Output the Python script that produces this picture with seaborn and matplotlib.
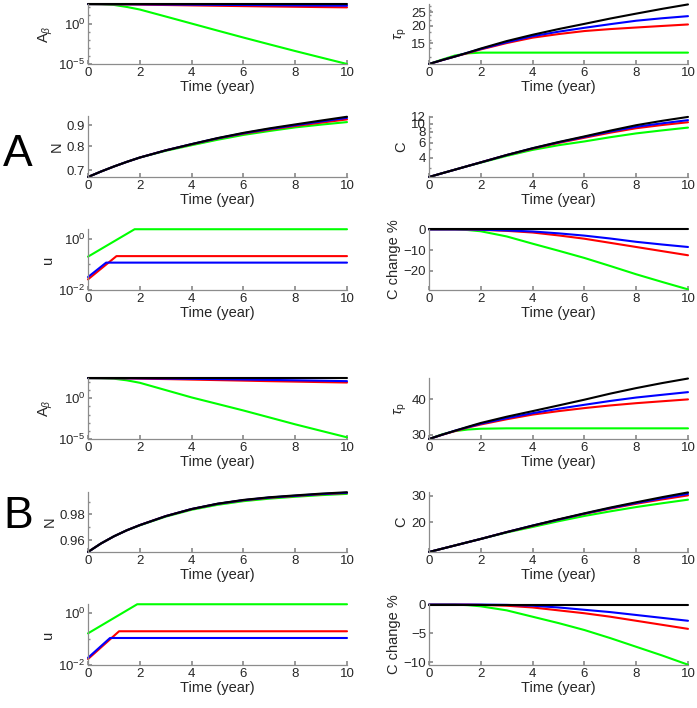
import numpy as np
import matplotlib
matplotlib.use("Agg")
import matplotlib.pyplot as plt
import matplotlib.ticker as mticker
import seaborn as sns

sns.set_theme(style="white")
plt.rcParams['font.family'] = ['Liberation Sans', 'DejaVu Sans']
plt.rcParams['mathtext.fontset'] = 'custom'
plt.rcParams['mathtext.rm'] = 'Liberation Sans'
plt.rcParams['mathtext.it'] = 'Liberation Sans:italic'

# time grid (years) used for the smooth curves
T = [0, 0.5, 1, 1.5, 2, 3, 4, 5, 6, 7, 8, 9, 10]

# ---------- panel A ----------
a_abeta = {
    'green': [250, 240, 200, 112, 54, 7.4, 1.0, 0.135, 0.0186, 0.0027, 4.0e-4, 6.3e-5, 1.0e-5],
    'red':   [250, 245, 238, 228, 218, 195, 175, 157, 142, 129, 118, 108, 100],
    'blue':  [250, 248, 245, 240, 235, 225, 215, 205, 195, 185, 175, 167, 160],
    'black': [250, 250, 250, 250, 250, 250, 250, 250, 250, 250, 250, 250, 250],
}
a_taup = {
    'green': [10.7, 11.5, 12.3, 12.75, 12.9, 12.9, 12.9, 12.9, 12.9, 12.9, 12.9, 12.9, 12.9],
    'red':   [10.7, 11.4, 12.1, 12.8, 13.6, 15.1, 16.5, 17.5, 18.4, 19.0, 19.5, 20.0, 20.5],
    'blue':  [10.7, 11.4, 12.1, 12.9, 13.7, 15.3, 16.9, 18.2, 19.4, 20.6, 21.8, 22.7, 23.5],
    'black': [10.7, 11.4, 12.1, 12.9, 13.8, 15.6, 17.3, 19.0, 20.7, 22.6, 24.5, 26.5, 28.5],
}
a_n = {
    'green': [0.673, 0.694, 0.714, 0.733, 0.751, 0.780, 0.805, 0.830, 0.853, 0.872, 0.890, 0.904, 0.917],
    'red':   [0.673, 0.694, 0.714, 0.733, 0.751, 0.782, 0.809, 0.836, 0.859, 0.879, 0.897, 0.914, 0.931],
    'blue':  [0.673, 0.694, 0.714, 0.733, 0.751, 0.782, 0.810, 0.837, 0.861, 0.882, 0.901, 0.920, 0.939],
    'black': [0.673, 0.694, 0.714, 0.733, 0.751, 0.782, 0.810, 0.838, 0.863, 0.885, 0.905, 0.925, 0.945],
}
a_c = {
    'green': [2.38, 2.63, 2.9, 3.2, 3.5, 4.2, 4.94, 5.6, 6.2, 6.95, 7.7, 8.35, 9.0],
    'red':   [2.38, 2.63, 2.9, 3.2, 3.53, 4.3, 5.1, 5.95, 6.85, 7.85, 8.85, 9.65, 10.4],
    'blue':  [2.38, 2.63, 2.9, 3.2, 3.53, 4.3, 5.15, 6.05, 7.0, 8.1, 9.2, 10.1, 11.0],
    'black': [2.38, 2.63, 2.9, 3.2, 3.53, 4.3, 5.17, 6.1, 7.1, 8.3, 9.6, 10.8, 12.0],
}
a_cchg = {
    'green': [0, 0, 0, -0.3, -0.9, -3.4, -6.9, -10.3, -13.8, -17.7, -21.7, -25.4, -29.0],
    'red':   [0, 0, 0, -0.05, -0.2, -0.7, -1.5, -2.9, -4.5, -6.5, -8.5, -10.5, -12.5],
    'blue':  [0, 0, 0, 0, -0.1, -0.5, -1.0, -1.9, -3.0, -4.4, -6.0, -7.3, -8.5],
    'black': [0, 0, 0, 0, 0, 0, 0, 0, 0, 0, 0, 0, 0],
}
# control u: (breakpoint times, values)
a_u = {
    'green': ([0, 1.8, 10], [0.2, 2.35, 2.35]),
    'red':   ([0, 1.1, 10], [0.026, 0.21, 0.21]),
    'blue':  ([0, 0.7, 10], [0.032, 0.117, 0.117]),
}

# ---------- panel B ----------
b_abeta = {
    'green': [295, 282, 251, 158, 79, 10, 1.26, 0.2, 0.0316, 0.00447, 6.3e-4, 1.0e-4, 1.6e-5],
    'red':   [295, 290, 282, 270, 255, 225, 195, 168, 145, 125, 110, 96, 85],
    'blue':  [295, 292, 288, 282, 275, 260, 240, 220, 198, 178, 160, 142, 125],
    'black': [295, 295, 295, 295, 295, 295, 295, 295, 295, 295, 295, 295, 295],
}
b_taup = {
    'green': [29.0, 30.1, 30.9, 31.3, 31.5, 31.6, 31.6, 31.6, 31.6, 31.6, 31.6, 31.6, 31.6],
    'red':   [29.0, 30.0, 30.9, 31.8, 32.6, 34.0, 35.3, 36.3, 37.2, 38.0, 38.7, 39.3, 39.9],
    'blue':  [29.0, 30.0, 31.0, 31.9, 32.8, 34.3, 35.7, 37.0, 38.2, 39.4, 40.5, 41.4, 42.3],
    'black': [29.0, 30.0, 31.0, 32.0, 33.0, 34.7, 36.3, 38.0, 39.8, 41.8, 43.7, 45.5, 47.2],
}
b_n = {
    'green': [0.951, 0.9575, 0.9630, 0.9677, 0.9715, 0.9783, 0.9837, 0.9876, 0.9905, 0.9925, 0.9940, 0.9953, 0.9963],
    'red':   [0.951, 0.9575, 0.9630, 0.9677, 0.9717, 0.9787, 0.9842, 0.9883, 0.9912, 0.9932, 0.9946, 0.9960, 0.9970],
    'blue':  [0.951, 0.9575, 0.9630, 0.9677, 0.9717, 0.9787, 0.9843, 0.9884, 0.9913, 0.9934, 0.9948, 0.9962, 0.9972],
    'black': [0.951, 0.9575, 0.9630, 0.9677, 0.9717, 0.9787, 0.9843, 0.9885, 0.9915, 0.9936, 0.9951, 0.9965, 0.9976],
}
b_c = {
    'green': [12.7, 13.35, 14.03, 14.75, 15.5, 17.1, 18.6, 20.3, 22.0, 23.6, 25.2, 26.7, 28.2],
    'red':   [12.7, 13.35, 14.03, 14.75, 15.5, 17.2, 18.9, 20.8, 22.7, 24.6, 26.5, 28.3, 30.1],
    'blue':  [12.7, 13.35, 14.03, 14.75, 15.5, 17.2, 19.0, 20.8, 22.8, 24.8, 26.8, 28.8, 30.8],
    'black': [12.7, 13.35, 14.03, 14.75, 15.5, 17.2, 19.0, 20.9, 22.9, 25.0, 27.1, 29.3, 31.5],
}
b_cchg = {
    'green': [0, 0, 0, -0.1, -0.3, -1.0, -2.1, -3.2, -4.4, -5.8, -7.3, -8.8, -10.4],
    'red':   [0, 0, 0, 0, -0.05, -0.2, -0.5, -1.0, -1.5, -2.1, -2.8, -3.5, -4.2],
    'blue':  [0, 0, 0, 0, 0, -0.05, -0.2, -0.5, -0.9, -1.3, -1.8, -2.3, -2.8],
    'black': [0, 0, 0, 0, 0, 0, 0, 0, 0, 0, 0, 0, 0],
}
b_u = {
    'green': ([0, 1.9, 10], [0.166, 2.2, 2.2]),
    'red':   ([0, 1.2, 10], [0.017, 0.2, 0.2]),
    'blue':  ([0, 0.85, 10], [0.019, 0.11, 0.11]),
}

COLORS = {'green': '#00ff00', 'red': '#ff0000', 'blue': '#0000ff', 'black': '#000000'}
W, H = 697, 708


def make_ax(fig, x0, x1, top, bottom):
    return fig.add_axes([x0 / W, 1 - bottom / H, (x1 - x0) / W, (bottom - top) / H])


def style_ax(ax):
    sns.despine(ax=ax)
    for s in ['left', 'bottom']:
        ax.spines[s].set_color('#8c8c8c')
        ax.spines[s].set_linewidth(0.9)
    ax.tick_params(which='both', direction='in', colors='#8c8c8c',
                   labelcolor='#262626', labelsize=9.5, left=True, bottom=True)
    ax.tick_params(which='major', length=3, pad=2)
    ax.tick_params(which='minor', length=1.5)
    ax.set_xlim(0, 10)
    ax.set_xticks([0, 2, 4, 6, 8, 10])
    ax.set_xlabel('Time (year)', fontsize=10.5, color='#262626', labelpad=1)
    ax.grid(False)


def draw_curves(ax, data, times=None):
    for name in ['green', 'red', 'blue', 'black']:
        if name not in data:
            continue
        if times is None:
            xs, ys = data[name]
        else:
            xs, ys = times, data[name]
        sns.lineplot(x=xs, y=ys, ax=ax, color=COLORS[name], lw=1.5,
                     estimator=None, sort=False, clip_on=False)


def plain_log(ax, ticks, lims):
    ax.set_yscale('log')
    ax.set_ylim(*lims)
    ax.yaxis.set_major_locator(mticker.FixedLocator(ticks))
    ax.yaxis.set_major_formatter(mticker.FuncFormatter(lambda v, _: f'{v:g}'))
    ax.yaxis.set_minor_formatter(mticker.NullFormatter())


def sci_log(ax, ticks, lims):
    ax.set_yscale('log')
    ax.set_ylim(*lims)
    ax.yaxis.set_major_locator(mticker.FixedLocator(ticks))
    ax.yaxis.set_major_formatter(mticker.FuncFormatter(
        lambda v, _: r'$10^{%d}$' % int(round(np.log10(v)))))
    ax.yaxis.set_minor_locator(mticker.LogLocator(base=10, subs=(1.0,), numticks=20))
    ax.yaxis.set_minor_formatter(mticker.NullFormatter())


def ylab(ax, text):
    ax.set_ylabel(text, fontsize=10.5, color='#262626', labelpad=2)


fig = plt.figure(figsize=(W / 100, H / 100), dpi=100)
LX = (88, 347)
RX = (429, 688)

groups = [
    (a_abeta, a_taup, a_n, a_c, a_u, a_cchg,
     [(4, 64), (116, 177), (229, 290)],
     dict(abeta=(1e-5, 260), taup=((15, 20, 25), (10.7, 28.7)),
          n=((0.7, 0.8, 0.9), (0.673, 0.949)), c=((4, 6, 8, 10, 12), (2.38, 12.3)),
          u=(1e-2, 2.4), cchg=((-20, -10, 0), (-29.3, 0.2)))),
    (b_abeta, b_taup, b_n, b_c, b_u, b_cchg,
     [(378, 439), (492, 552), (604, 665)],
     dict(abeta=(1e-5, 305), taup=((30, 40), (29.0, 47.4)),
          n=((0.96, 0.98), (0.951, 0.9978)), c=((20, 30), (12.7, 31.7)),
          u=(1e-2, 2.25), cchg=((-10, -5, 0), (-10.45, 0.1)))),
]

for abeta, taup, n, c, u, cchg, rows, lim in groups:
    # row 1
    ax = make_ax(fig, LX[0], LX[1], *rows[0])
    draw_curves(ax, abeta, T)
    sci_log(ax, [1e-5, 1], lim['abeta'])
    ylab(ax, r'A$_\beta$')
    style_ax(ax)

    ax = make_ax(fig, RX[0], RX[1], *rows[0])
    draw_curves(ax, taup, T)
    plain_log(ax, lim['taup'][0], lim['taup'][1])
    ylab(ax, r'$\tau_\mathrm{p}$')
    style_ax(ax)

    # row 2
    ax = make_ax(fig, LX[0], LX[1], *rows[1])
    draw_curves(ax, n, T)
    plain_log(ax, lim['n'][0], lim['n'][1])
    ylab(ax, 'N')
    style_ax(ax)

    ax = make_ax(fig, RX[0], RX[1], *rows[1])
    draw_curves(ax, c, T)
    plain_log(ax, lim['c'][0], lim['c'][1])
    ylab(ax, 'C')
    style_ax(ax)

    # row 3
    ax = make_ax(fig, LX[0], LX[1], *rows[2])
    draw_curves(ax, u)
    sci_log(ax, [1e-2, 1], lim['u'])
    ylab(ax, 'u')
    style_ax(ax)

    ax = make_ax(fig, RX[0], RX[1], *rows[2])
    draw_curves(ax, cchg, T)
    ax.set_ylim(*lim['cchg'][1])
    ax.set_yticks(lim['cchg'][0])
    ylab(ax, 'C change %')
    style_ax(ax)

fig.text(3 / W, 1 - 154 / H, 'A', fontsize=32, va='center', ha='left', color='black')
fig.text(3 / W, 1 - 517 / H, 'B', fontsize=32, va='center', ha='left', color='black')

fig.savefig('out.png', dpi=100)
